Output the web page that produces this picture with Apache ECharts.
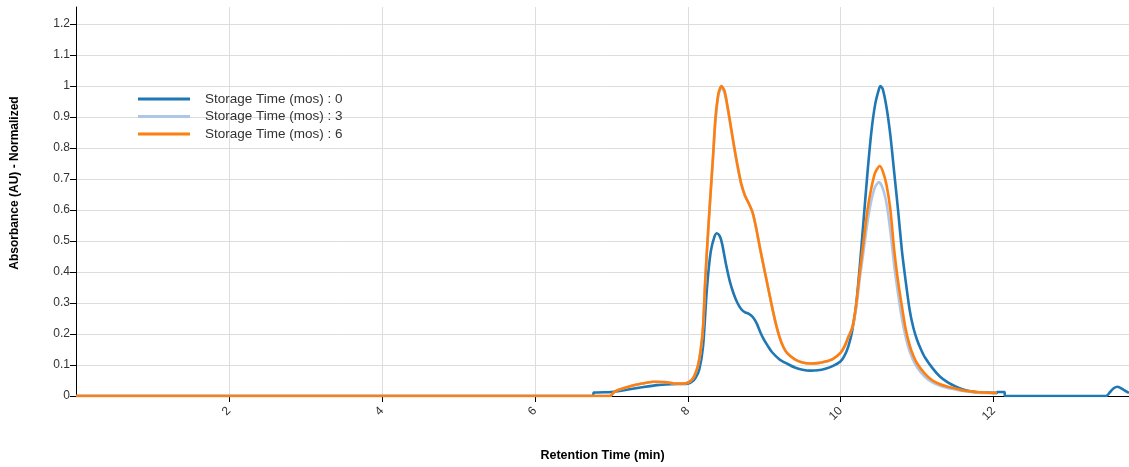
<!DOCTYPE html>
<html>
<head>
<meta charset="utf-8">
<script src="https://cdn.jsdelivr.net/npm/echarts@6/dist/echarts.min.js"></script>
<style>html,body{margin:0;padding:0;background:#fff;}#c{width:1129px;height:467px;}</style>
</head>
<body>
<div id="c"></div>
<script>
const seriesNames = ['Storage Time (mos) : 0', 'Storage Time (mos) : 3', 'Storage Time (mos) : 6'];
const xTitle = 'Retention Time (min)';
const yTitle = 'Absorbance (AU) - Normalized';

const x0 = [0, 6.76, 6.77, 7.0, 7.2, 7.4, 7.6, 7.8, 8.0, 8.05, 8.1, 8.15, 8.2, 8.25, 8.3, 8.35, 8.38, 8.42, 8.45, 8.5, 8.55, 8.6, 8.65, 8.7, 8.75, 8.8, 8.85, 8.9, 8.95, 9.0, 9.05, 9.1, 9.2, 9.3, 9.4, 9.5, 9.6, 9.7, 9.8, 9.9, 10.0, 10.05, 10.1, 10.15, 10.2, 10.25, 10.3, 10.35, 10.4, 10.45, 10.5, 10.52, 10.55, 10.6, 10.65, 10.7, 10.75, 10.8, 10.85, 10.9, 10.95, 11.0, 11.05, 11.1, 11.2, 11.3, 11.4, 11.5, 11.6, 11.7, 11.8, 11.9, 12.04, 12.05, 12.14, 12.15, 13.47, 13.52, 13.57, 13.62, 13.7, 13.77];
const y0 = [0, 0, 0.011, 0.013, 0.02, 0.028, 0.035, 0.038, 0.04, 0.045, 0.058, 0.085, 0.16, 0.345, 0.465, 0.515, 0.525, 0.515, 0.49, 0.425, 0.37, 0.33, 0.3, 0.28, 0.27, 0.265, 0.255, 0.235, 0.205, 0.18, 0.16, 0.142, 0.118, 0.104, 0.092, 0.085, 0.082, 0.083, 0.088, 0.097, 0.112, 0.13, 0.16, 0.21, 0.29, 0.42, 0.57, 0.72, 0.85, 0.94, 0.99, 1.0, 0.99, 0.93, 0.84, 0.72, 0.6, 0.47, 0.37, 0.28, 0.22, 0.18, 0.15, 0.125, 0.09, 0.062, 0.044, 0.031, 0.021, 0.015, 0.012, 0.011, 0.01, 0.013, 0.013, 0, 0, 0.012, 0.025, 0.03, 0.02, 0.01];

const x1 = [0, 6.98, 7.05, 7.2, 7.4, 7.55, 7.7, 7.85, 7.95, 8.03, 8.08, 8.13, 8.17, 8.2, 8.23, 8.27, 8.3, 8.33, 8.36, 8.4, 8.44, 8.48, 8.52, 8.56, 8.6, 8.65, 8.7, 8.75, 8.8, 8.85, 8.9, 8.95, 9.0, 9.05, 9.1, 9.15, 9.2, 9.25, 9.3, 9.4, 9.5, 9.6, 9.7, 9.8, 9.9, 10.0, 10.05, 10.1, 10.15, 10.2, 10.25, 10.3, 10.35, 10.4, 10.45, 10.5, 10.55, 10.6, 10.65, 10.7, 10.75, 10.8, 10.85, 10.9, 10.95, 11.0, 11.1, 11.2, 11.3, 11.4, 11.5, 11.6, 11.7, 11.8, 11.9, 12.04];
const y1 = [0, 0, 0.015, 0.028, 0.04, 0.046, 0.045, 0.04, 0.04, 0.047, 0.062, 0.095, 0.15, 0.224, 0.38, 0.546, 0.66, 0.77, 0.88, 0.97, 0.995, 0.978, 0.93, 0.87, 0.81, 0.74, 0.68, 0.645, 0.62, 0.59, 0.535, 0.47, 0.41, 0.35, 0.29, 0.235, 0.19, 0.158, 0.138, 0.118, 0.108, 0.105, 0.106, 0.111, 0.12, 0.14, 0.16, 0.19, 0.22, 0.28, 0.38, 0.47, 0.56, 0.63, 0.675, 0.69, 0.67, 0.62, 0.53, 0.42, 0.33, 0.25, 0.19, 0.145, 0.115, 0.092, 0.062, 0.044, 0.033, 0.026, 0.021, 0.016, 0.013, 0.011, 0.01, 0.009];

const x2 = [0, 6.98, 7.05, 7.2, 7.4, 7.55, 7.7, 7.85, 7.95, 8.03, 8.08, 8.13, 8.17, 8.2, 8.23, 8.27, 8.3, 8.33, 8.36, 8.4, 8.44, 8.48, 8.52, 8.56, 8.6, 8.65, 8.7, 8.75, 8.8, 8.85, 8.9, 8.95, 9.0, 9.05, 9.1, 9.15, 9.2, 9.25, 9.3, 9.4, 9.5, 9.6, 9.7, 9.8, 9.9, 10.0, 10.05, 10.1, 10.15, 10.2, 10.25, 10.3, 10.35, 10.4, 10.45, 10.51, 10.55, 10.6, 10.65, 10.7, 10.75, 10.8, 10.85, 10.9, 10.95, 11.0, 11.1, 11.2, 11.3, 11.4, 11.5, 11.6, 11.7, 11.8, 11.9, 12.04];
const y2 = [0, 0, 0.015, 0.028, 0.04, 0.046, 0.045, 0.04, 0.04, 0.047, 0.062, 0.095, 0.15, 0.224, 0.38, 0.546, 0.66, 0.77, 0.89, 0.975, 1.0, 0.985, 0.935, 0.875, 0.815, 0.745, 0.685, 0.645, 0.62, 0.59, 0.535, 0.47, 0.41, 0.35, 0.29, 0.235, 0.19, 0.158, 0.138, 0.118, 0.108, 0.105, 0.106, 0.111, 0.12, 0.14, 0.16, 0.19, 0.22, 0.29, 0.4, 0.5, 0.6, 0.67, 0.72, 0.742, 0.725, 0.68, 0.6, 0.47, 0.37, 0.29, 0.215, 0.165, 0.13, 0.105, 0.072, 0.05, 0.038, 0.03, 0.024, 0.018, 0.015, 0.012, 0.011, 0.01];

const xsList = [x0, x1, x2];
const ysList = [y0, y1, y2];
const colors = ['#1f77b4', '#aec7e8', '#ff7f0e'];

const FONT = '"Liberation Sans", Arial, sans-serif';
const chart = echarts.init(document.getElementById('c'), null, {renderer: 'canvas'});

const series = seriesNames.map((name, i) => ({
  name: name,
  type: 'line',
  data: xsList[i].map((x, k) => [x, ysList[i][k]]),
  showSymbol: false,
  symbol: 'none',
  smooth: 0.25,
  lineStyle: {width: 2.6, color: colors[i]},
  itemStyle: {color: colors[i]},
  animation: false,
  z: 2 + i
}));

chart.setOption({
  animation: false,
  backgroundColor: '#fff',
  grid: {left: 76, right: 0, top: 7, bottom: 71, containLabel: false, outerBoundsMode: 'none'},
  legend: {
    orient: 'vertical',
    left: 138,
    top: 92,
    padding: 0,
    itemWidth: 52,
    itemHeight: 3,
    itemGap: 3.5,
    icon: 'rect',
    data: seriesNames,
    textStyle: {fontFamily: FONT, fontSize: 13.5, color: '#333', padding: [0, 0, 0, 10], lineHeight: 14}
  },
  xAxis: {
    type: 'value',
    min: 0,
    max: 13.77,
    interval: 2,
    name: xTitle,
    nameLocation: 'middle',
    nameGap: 53,
    nameTextStyle: {fontFamily: FONT, fontSize: 12.5, fontWeight: 'bold', color: '#000'},
    axisLine: {show: true, onZero: false, lineStyle: {color: '#000', width: 1}},
    axisTick: {show: true, length: 6, lineStyle: {color: '#000'}},
    axisLabel: {rotate: 45, margin: 13, fontFamily: FONT, fontSize: 12, color: '#333', showMinLabel: false, showMaxLabel: false},
    splitLine: {show: true, showMinLine: false, showMaxLine: false, lineStyle: {color: '#ddd', width: 1}}
  },
  yAxis: {
    type: 'value',
    min: 0,
    max: 1.255,
    interval: 0.1,
    axisLine: {show: true, lineStyle: {color: '#000', width: 1}},
    axisTick: {show: true, length: 6, lineStyle: {color: '#000'}},
    axisLabel: {margin: 6, fontFamily: FONT, fontSize: 12, color: '#333', showMaxLabel: false,
      formatter: v => String(Math.round(v * 10) / 10)},
    splitLine: {show: true, showMinLine: false, showMaxLine: false, lineStyle: {color: '#ddd', width: 1}}
  },
  graphic: [{
    type: 'text',
    x: 15,
    y: 183,
    rotation: Math.PI / 2,
    style: {text: yTitle, fontFamily: FONT, fontSize: 12, fontWeight: 'bold', fill: '#000', align: 'center', verticalAlign: 'middle'}
  }],
  series: series
});
</script>
</body>
</html>
